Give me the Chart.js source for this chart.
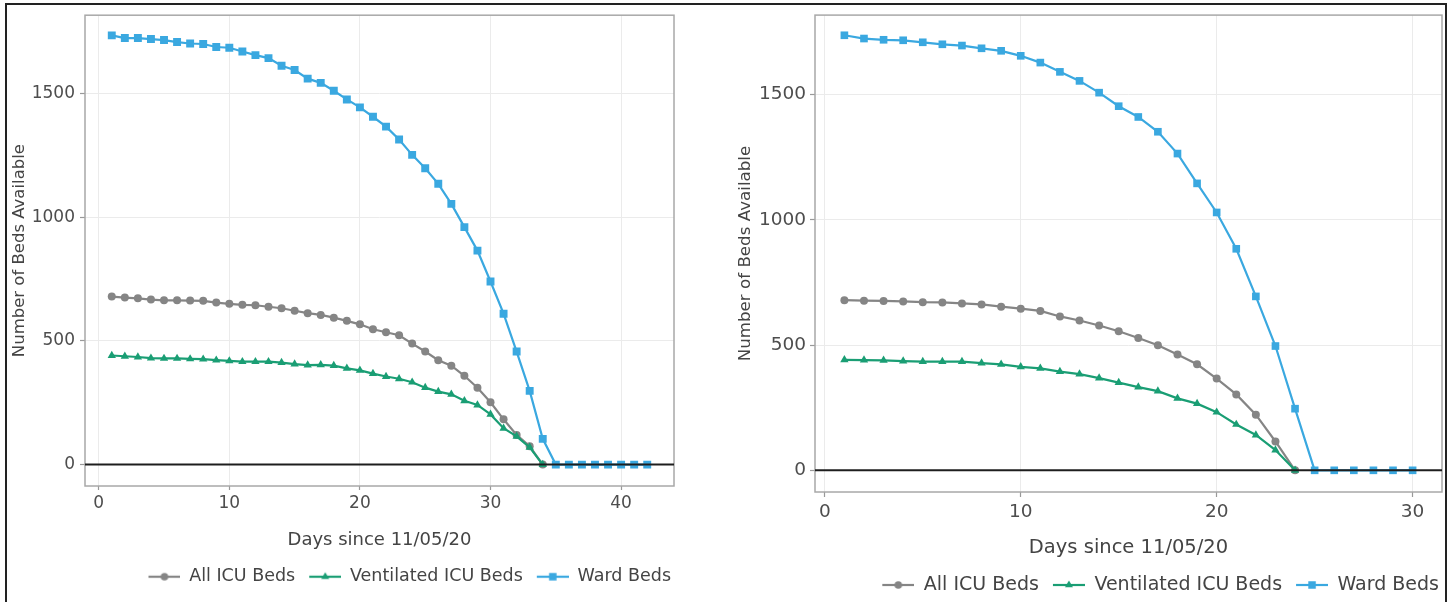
<!DOCTYPE html>
<html>
<head>
<meta charset="utf-8">
<script src="https://cdn.jsdelivr.net/npm/chart.js@4.4.1/dist/chart.umd.min.js"></script>
<style>
  body { margin: 0; background: #fff; overflow: hidden; width: 1456px; height: 602px; position: relative; }
  .frame { position: absolute; left: 5px; top: 3px; width: 1438px; height: 640px; border: 2px solid #222; }
  canvas { position: absolute; top: 0; }
  #left { left: 0; }
  #right { left: 700px; }
</style>
</head>
<body>
<div class="frame"></div>
<canvas id="left" width="682" height="602"></canvas>
<canvas id="right" width="756" height="606"></canvas>
<script>
const legendNames = ['All ICU Beds', 'Ventilated ICU Beds', 'Ward Beds'];
const seriesColors = ['#858585', '#1a9e74', '#3aa8e0'];
const seriesMarkers = ['circle', 'triangle', 'rect'];
const yTicks = [0, 500, 1000, 1500];

// left panel: 42 days
const daysLeft = [1, 2, 3, 4, 5, 6, 7, 8, 9, 10, 11, 12, 13, 14, 15, 16, 17, 18, 19, 20, 21,
  22, 23, 24, 25, 26, 27, 28, 29, 30, 31, 32, 33, 34, 35, 36, 37, 38, 39, 40, 41, 42];
const xTicksLeft = [0, 10, 20, 30, 40];
const allIcuLeft = [679, 675, 672, 667, 664, 664, 663, 662, 655, 650, 646, 644, 638, 632, 622, 612, 605,
  594, 581, 567, 547, 535, 523, 489, 457, 422, 400, 359, 311, 252, 183, 120, 74, 0];
const ventIcuLeft = [441, 438, 435, 430, 429, 429, 427, 426, 422, 419, 416, 416, 416, 412, 406, 402, 403,
  400, 389, 381, 368, 356, 347, 333, 311, 295, 284, 258, 241, 203, 147, 114, 70, 0];
const wardLeft = [1735, 1724, 1724, 1720, 1716, 1708, 1702, 1700, 1688, 1685, 1670, 1655, 1643, 1612,
  1595, 1560, 1543, 1511, 1476, 1444, 1406, 1366, 1314, 1252, 1198, 1135, 1054, 960, 865, 740, 610,
  457, 298, 104, 0, 0, 0, 0, 0, 0, 0, 0];

// right panel: 30 days
const daysRight = [1, 2, 3, 4, 5, 6, 7, 8, 9, 10, 11, 12, 13, 14, 15, 16, 17, 18, 19, 20, 21, 22, 23,
  24, 25, 26, 27, 28, 29, 30];
const xTicksRight = [0, 10, 20, 30];
const allIcuRight = [679, 677, 676, 674, 671, 670, 666, 662, 653, 645, 636, 614, 598, 578, 555, 528,
  499, 462, 423, 366, 303, 222, 115, 0];
const ventIcuRight = [441, 440, 439, 436, 434, 434, 434, 428, 423, 413, 407, 394, 384, 368, 350, 332,
  316, 287, 266, 232, 183, 141, 81, 0];
const wardRight = [1736, 1723, 1718, 1716, 1708, 1700, 1695, 1684, 1674, 1654, 1627, 1590, 1554, 1507,
  1453, 1410, 1351, 1264, 1145, 1029, 884, 694, 496, 246, 0, 0, 0, 0, 0, 0];

const FONT = 'DejaVu Sans';

// panel border + black zero line
const panelPlugin = {
  id: 'panel',
  beforeDatasetsDraw(chart) {
    const { ctx, chartArea: a } = chart;
    ctx.save();
    ctx.strokeStyle = '#a8a8a8';
    ctx.lineWidth = 1.5;
    ctx.strokeRect(a.left, a.top, a.right - a.left, a.bottom - a.top);
    ctx.restore();
  },
  afterDatasetsDraw(chart) {
    const { ctx, chartArea: a, scales } = chart;
    const y0 = scales.y.getPixelForValue(0);
    ctx.save();
    ctx.strokeStyle = '#1e1e1e';
    ctx.lineWidth = 2;
    ctx.beginPath();
    ctx.moveTo(a.left, y0);
    ctx.lineTo(a.right, y0);
    ctx.stroke();
    ctx.restore();
  }
};

// little line + marker sample for the legend
function legendIcon(i, r) {
  const c = document.createElement('canvas');
  c.width = 43;
  c.height = 14;
  const g = c.getContext('2d');
  g.strokeStyle = seriesColors[i];
  g.lineWidth = 2.2;
  g.beginPath();
  g.moveTo(11, 7);
  g.lineTo(43, 7);
  g.stroke();
  g.fillStyle = seriesColors[i];
  Chart.helpers.drawPoint(g, { pointStyle: seriesMarkers[i], radius: r, rotation: 0, borderWidth: 0 }, 27, 7);
  return c;
}

function buildChart(id, s) {
  const icons = [legendIcon(0, 3.8), legendIcon(1, 4.6), legendIcon(2, 5.3)];
  const datasets = s.values.map((vals, i) => ({
    label: legendNames[i],
    data: vals.map((v, k) => ({ x: s.days[k], y: v })),
    borderColor: seriesColors[i],
    backgroundColor: seriesColors[i],
    borderWidth: 2.2,
    pointStyle: seriesMarkers[i],
    pointRadius: s.radius[i],
    pointHoverRadius: s.radius[i],
    pointBorderWidth: 0,
    tension: 0,
    order: 2 - i
  }));

  new Chart(document.getElementById(id), {
    type: 'line',
    data: { datasets },
    plugins: [panelPlugin],
    options: {
      responsive: false,
      animation: false,
      devicePixelRatio: 1,
      layout: { padding: { left: 0, right: s.padRight, top: s.padTop, bottom: s.padBottom } },
      plugins: {
        legend: {
          position: 'bottom',
          align: 'end',
          labels: {
            usePointStyle: true,
            pointStyleWidth: 43,
            padding: 3,
            color: '#444',
            font: { family: FONT, size: s.legendFont },
            generateLabels: () => legendNames.map((name, i) => ({
              text: name,
              pointStyle: icons[i],
              datasetIndex: i,
              hidden: false,
              fillStyle: seriesColors[i],
              strokeStyle: seriesColors[i],
              lineWidth: 0,
              fontColor: '#444'
            }))
          }
        },
        tooltip: { enabled: false }
      },
      scales: {
        x: {
          type: 'linear',
          min: s.xMin,
          max: s.xMax,
          afterBuildTicks: axis => { axis.ticks = s.xTicks.map(v => ({ value: v })); },
          afterFit: axis => { axis.height = s.xHeight; },
          grid: { color: '#ebebeb', lineWidth: 1, tickLength: s.xTickLen, tickColor: '#999', tickWidth: 1.2 },
          border: { display: false },
          ticks: {
            padding: s.xTickPad, color: '#4d4d4d', autoSkip: false, maxRotation: 0,
            font: { family: FONT, size: s.tickFont },
            callback: v => String(v)
          },
          title: {
            display: true, text: 'Days since 11/05/20', color: '#444',
            font: { family: FONT, size: s.xTitleFont },
            padding: { top: 0, bottom: s.xTitlePad }
          }
        },
        y: {
          type: 'linear',
          min: -86.5,
          max: 1816.5,
          afterBuildTicks: axis => { axis.ticks = yTicks.map(v => ({ value: v })); },
          afterFit: axis => { axis.width = s.yWidth; },
          grid: { color: '#ebebeb', lineWidth: 1, tickLength: 5, tickColor: '#999', tickWidth: 1.2 },
          border: { display: false },
          ticks: {
            padding: s.yTickPad, color: '#4d4d4d',
            font: { family: FONT, size: s.tickFont },
            callback: v => String(v)
          },
          title: {
            display: true, text: 'Number of Beds Available', color: '#444',
            font: { family: FONT, size: s.yTitleFont },
            padding: { top: s.yTitlePad, bottom: 0 }
          }
        }
      }
    }
  });
}

buildChart('left', {
  days: daysLeft,
  values: [allIcuLeft, ventIcuLeft, wardLeft],
  xTicks: xTicksLeft,
  xMin: -1.05, xMax: 44.05,
  radius: [4, 4.8, 5.6],
  padTop: 14, padRight: 8, padBottom: 6.5,
  yWidth: 85, yTickPad: 5, yTitlePad: 10,
  xHeight: 79, xTickLen: 4, xTickPad: 3, xTitlePad: 13.5,
  tickFont: 17, xTitleFont: 18, yTitleFont: 16.5, legendFont: 17.5
});

buildChart('right', {
  days: daysRight,
  values: [allIcuRight, ventIcuRight, wardRight],
  xTicks: xTicksRight,
  xMin: -0.5, xMax: 31.5,
  radius: [4, 4.8, 5.4],
  padTop: 6, padRight: 14, padBottom: 1.5,
  yWidth: 115, yTickPad: 4, yTitlePad: 36,
  xHeight: 80.5, xTickLen: 5, xTickPad: 4, xTitlePad: 12.8,
  tickFont: 18.5, xTitleFont: 19.5, yTitleFont: 16.7, legendFont: 19
});
</script>
</body>
</html>
